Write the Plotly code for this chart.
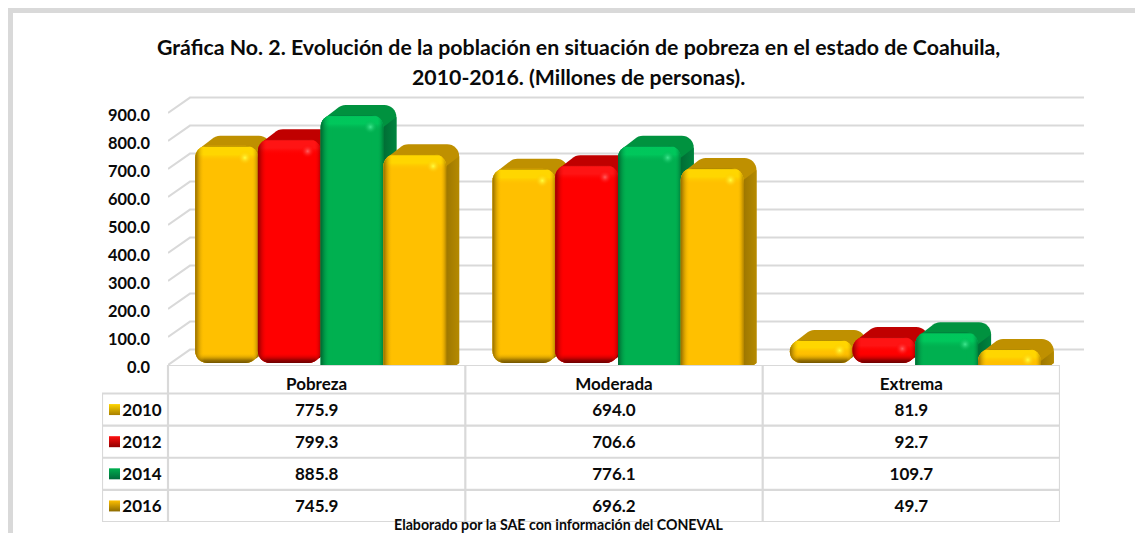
import plotly.graph_objects as go
import math

# ---- data ----
CATEGORIES = ["Pobreza", "Moderada", "Extrema"]
YEARS = ["2010", "2012", "2014", "2016"]
V2010 = [775.9, 694.0, 81.9]
V2012 = [799.3, 706.6, 92.7]
V2014 = [885.8, 776.1, 109.7]
V2016 = [745.9, 696.2, 49.7]
SERIES = [V2010, V2012, V2014, V2016]
Y_TICKS = [0, 100, 200, 300, 400, 500, 600, 700, 800, 900]
TITLE_1 = "Gráfica No. 2. Evolución de la población en situación de pobreza en el estado de Coahuila,"
TITLE_2 = "2010-2016. (Millones de personas)."
FOOTER = "Elaborado por la SAE con información del CONEVAL"

# ---- style ----
W, H = 1135, 533
FONT = "Lato"
INK = "#0a0a0a"
GRID = "#d9d9d9"
STYLES = [
    dict(body="#ffc000", top="#bf9000", side0="#9a7400", side1="#b58a00", band="rgba(255,214,0,1)",
         dark="rgba(115,85,0,1)", edge="rgba(150,110,0,1)", spot="#ffff40", sw="#ffd500", swd="#a87f00"),
    dict(body="#ff0000", top="#c00000", side0="#900000", side1="#b00000", band="rgba(255,25,25,0.8)",
         dark="rgba(110,0,0,1)", edge="rgba(150,0,0,1)", spot="#ff6060", sw="#ff1010", swd="#900000"),
    dict(body="#00b050", top="#00923f", side0="#006a33", side1="#00843f", band="rgba(0,200,92,0.95)",
         dark="rgba(0,85,38,1)", edge="rgba(0,105,50,1)", spot="#40e890", sw="#00b050", swd="#00693a"),
    dict(body="#ffc000", top="#bf9000", side0="#9a7400", side1="#b58a00", band="rgba(255,214,0,1)",
         dark="rgba(115,85,0,1)", edge="rgba(150,110,0,1)", spot="#ffff40", sw="#ffc000", swd="#8c6a00"),
]


def clear(hexcol):
    r, g, b = int(hexcol[1:3], 16), int(hexcol[3:5], 16), int(hexcol[5:7], 16)
    return f"rgba({r},{g},{b},0)"


# ---- axis geometry (pixels) ----
PLOT_L, PLOT_R, PLOT_B, PLOT_T = 168, 1084, 365, 88
TAB_L, TAB_R, TAB_T, TAB_B = 102, 1060, 365, 522
SX = (1060 - 168) / 3        # px per category
SY = 0.28                    # px per y unit
XMIN, XMAX = -0.5, -0.5 + (PLOT_R - PLOT_L) / SX
YMAX = (PLOT_B - PLOT_T) / SY
BAR_W = 62.75
SHIFT = 4
DX, DY = 13, 10
LIFT = 2
R = 12


def round_rect(x0, x1, y0, y1, rb, rt):
    """Rounded rectangle polygon in px-up space."""
    pts = []
    def arc(cx, cy, r, a0, a1):
        if r <= 0:
            pts.append((cx, cy))
            return
        for k in range(9):
            a = math.radians(a0 + (a1 - a0) * k / 8)
            pts.append((cx + r * math.cos(a), cy + r * math.sin(a)))
    arc(x0 + rb, y0 + rb, rb, 180, 270)
    arc(x1 - rb, y0 + rb, rb, 270, 360)
    arc(x1 - rt, y1 - rt, rt, 0, 90)
    arc(x0 + rt, y1 - rt, rt, 90, 180)
    return pts


def hull(points):
    p = sorted(set(points))
    def cross(o, a, b):
        return (a[0]-o[0])*(b[1]-o[1]) - (a[1]-o[1])*(b[0]-o[0])
    lo, up = [], []
    for q in p:
        while len(lo) > 1 and cross(lo[-2], lo[-1], q) <= 0:
            lo.pop()
        lo.append(q)
    for q in reversed(p):
        while len(up) > 1 and cross(up[-2], up[-1], q) <= 0:
            up.pop()
        up.append(q)
    return lo[:-1] + up[:-1]


def clip(points, a, b, c):
    """Keep part of polygon with a*x + b*y <= c."""
    out = []
    n = len(points)
    for i in range(n):
        p, q = points[i], points[(i + 1) % n]
        fp, fq = a*p[0] + b*p[1] - c, a*q[0] + b*q[1] - c
        if fp <= 0:
            out.append(p)
        if fp * fq < 0:
            t = fp / (fp - fq)
            out.append((p[0] + t*(q[0]-p[0]), p[1] + t*(q[1]-p[1])))
    return out


def poly(points, z, color=None, grad=None):
    xs = [p[0] / SX for p in points] + [points[0][0] / SX]
    ys = [p[1] / SY for p in points] + [points[0][1] / SY]
    kw = dict(x=xs, y=ys, mode="none", fill="toself", hoverinfo="skip", showlegend=False, zorder=z)
    if grad:
        kw["fillgradient"] = dict(type=grad[0], colorscale=grad[1])
    else:
        kw["fillcolor"] = color
    return go.Scatter(**kw)


fig = go.Figure()

# back wall / side wall gridlines
for t in Y_TICKS:
    fig.add_trace(go.Scatter(
        x=[XMIN, XMIN + 22 / SX, XMAX], y=[t, t + 15.4 / SY, t + 15.4 / SY],
        mode="lines", line=dict(color=GRID, width=2), hoverinfo="skip", showlegend=False,
        cliponaxis=False, zorder=-1))

# bars
for s, (vals, st) in enumerate(zip(SERIES, STYLES)):
    z = 10 * (s + 1)
    rounded_bottom = s < 2
    spots_x, spots_y = [], []
    for c, v in enumerate(vals):
        cx = c * SX + SHIFT + (s - 1.5) * BAR_W
        x0, x1 = cx - BAR_W / 2, cx + BAR_W / 2
        y1 = LIFT + v * SY
        y0 = LIFT if rounded_bottom else -8
        h = y1 - y0
        rb = min(R, h / 2) if rounded_bottom else 0
        rt = min(R, h / 2)
        front = round_rect(x0, x1, y0, y1, rb, rt)
        back = [(p[0] + DX, p[1] + DY) for p in front]
        shell = hull(front + back)
        fig.add_trace(poly(shell, z, color=st["top"]))
        # side face: right of the front, below the diagonal from the front top-right corner
        side = clip(clip(shell, -1, 0, -(x1 - 2)), -DY, DX, DX * (y1 - rt) - DY * x1)
        if len(side) > 2:
            fig.add_trace(poly(side, z, grad=("horizontal", [[0, st["side0"]], [1, st["side1"]]])))
        fig.add_trace(poly(front, z + 1, color=st["body"]))
        # bevel overlays
        tb = min(16, h * 0.6)
        bb = min(10, h * 0.45)
        fig.add_trace(poly(clip(front, 0, -1, -(y1 - tb)), z + 3, grad=(
            "vertical", [[0, clear(st["body"])], [0.45, st["band"]], [0.9, st["band"]], [1, st["edge"]]])))
        if rounded_bottom:
            fig.add_trace(poly(clip(front, 0, 1, y0 + bb), z + 3, grad=(
                "vertical", [[0, st["dark"]], [0.3, st["dark"].replace(",1)", ",0.7)")], [1, clear(st["body"])]])))
        fig.add_trace(poly(clip(front, 1, 0, x0 + 9), z + 3, grad=(
            "horizontal", [[0, st["edge"]], [0.3, st["edge"].replace(",1)", ",0.55)")], [1, clear(st["body"])]])))
        fig.add_trace(poly(clip(front, -1, 0, -(x1 - 6)), z + 3, grad=(
            "horizontal", [[0, clear(st["body"])], [1, st["edge"].replace(",1)", ",0.7)")]])))
        spots_x.append((x1 - 13) / SX)
        spots_y.append((y1 - min(12, h * 0.45)) / SY)
    # the bar itself, read straight from the series values
    fig.add_trace(go.Bar(
        x=[c + (SHIFT + (s - 1.5) * BAR_W) / SX for c in range(len(vals))],
        y=vals, base=[LIFT / SY] * len(vals), width=[(BAR_W - 2 * R) / SX] * len(vals),
        name=YEARS[s], marker=dict(color=st["body"], line=dict(width=0)),
        showlegend=False, zorder=z + 2,
        hovertemplate="%{y:.1f}<extra>" + YEARS[s] + "</extra>"))
    fig.add_trace(go.Scatter(
        x=spots_x, y=spots_y, mode="markers", hoverinfo="skip", showlegend=False, zorder=z + 4,
        marker=dict(size=14, color=clear(st["body"]), line=dict(width=0),
                    gradient=dict(type="radial", color=st["spot"]))))

# ---- table on its own axes ----
ROW_PX = (TAB_B - 393.5) / 4
HEAD_TOP = -0.5 - 28.5 / ROW_PX
X2MIN = -0.5 - (168 - TAB_L) / SX


def tline(xs, ys):
    fig.add_trace(go.Scatter(
        x=xs, y=ys, xaxis="x2", yaxis="y2", mode="lines", line=dict(color=GRID, width=2.2),
        hoverinfo="skip", showlegend=False, cliponaxis=False))


tline([-0.5, 2.5], [HEAD_TOP, HEAD_TOP])
for r in range(5):
    tline([X2MIN, 2.5], [r - 0.5, r - 0.5])
tline([X2MIN, X2MIN], [-0.5, 3.5])
for c in range(4):
    tline([c - 0.5, c - 0.5], [HEAD_TOP, 3.5])

TEXT_FONT = dict(family=FONT, size=17, color=INK, weight=700)
fig.add_trace(go.Scatter(
    x=list(range(3)), y=[-0.74] * 3, xaxis="x2", yaxis="y2", mode="text", text=CATEGORIES,
    textfont=TEXT_FONT, textposition="middle center", hoverinfo="skip", showlegend=False, cliponaxis=False))
for r, vals in enumerate(SERIES):
    fig.add_trace(go.Scatter(
        x=list(range(3)), y=[r + 0.06] * 3, xaxis="x2", yaxis="y2", mode="text",
        text=[f"{v:.1f}" for v in vals], textfont=TEXT_FONT, textposition="middle center",
        hoverinfo="skip", showlegend=False, cliponaxis=False))
fig.add_trace(go.Scatter(
    x=[-0.5 - 26 / SX] * 4, y=[r + 0.06 for r in range(4)], xaxis="x2", yaxis="y2", mode="text", text=YEARS,
    textfont=TEXT_FONT, textposition="middle center", hoverinfo="skip", showlegend=False, cliponaxis=False))
fig.add_trace(go.Scatter(
    x=[-0.5 - 53.5 / SX] * 4, y=list(range(4)), xaxis="x2", yaxis="y2", mode="markers",
    marker=dict(symbol="square", size=11, color=[st["sw"] for st in STYLES], line=dict(width=0),
                gradient=dict(type="vertical", color=[st["swd"] for st in STYLES])),
    hoverinfo="skip", showlegend=False, cliponaxis=False))


def note(text, cx, cy, size):
    return dict(text=text, xref="paper", yref="paper", x=cx / W, y=1 - cy / H, xanchor="center", yanchor="middle",
                showarrow=False, font=dict(family=FONT, size=size, color=INK, weight=700))


# ---- layout ----
fig.update_layout(
    width=W, height=H, margin=dict(l=0, r=0, t=0, b=0, autoexpand=False), autosize=False,
    paper_bgcolor="white", plot_bgcolor="rgba(0,0,0,0)", barmode="overlay", showlegend=False,
    xaxis=dict(domain=[PLOT_L / W, PLOT_R / W], range=[XMIN, XMAX], showticklabels=False, ticks="",
               showgrid=False, zeroline=False, showline=False, fixedrange=True),
    yaxis=dict(domain=[1 - PLOT_B / H, 1 - PLOT_T / H], range=[0, YMAX], tickmode="array", tickvals=Y_TICKS,
               ticktext=[f"{t:.1f}" for t in Y_TICKS], ticks="", ticklabelstandoff=17, ticklabelshift=2,
               tickfont=dict(family=FONT, size=16.4, color=INK, weight=700),
               showgrid=False, zeroline=False, showline=False, fixedrange=True),
    xaxis2=dict(domain=[TAB_L / W, TAB_R / W], range=[X2MIN, 2.5], visible=False, fixedrange=True, anchor="y2"),
    yaxis2=dict(domain=[1 - TAB_B / H, 1 - TAB_T / H], range=[3.5, HEAD_TOP], visible=False, fixedrange=True, anchor="x2"),
    annotations=[note(TITLE_1, 578.5, 47, 21.3), note(TITLE_2, 578.5, 77, 21.3), note(FOOTER, 558.5, 524.8, 14.2)],
    shapes=[dict(type="rect", xref="paper", yref="paper", x0=10.5 / W, x1=1.02, y0=-0.05, y1=1 - 10.5 / H,
                 line=dict(color=GRID, width=5), layer="below")],
)

fig.write_html("out.html", config=dict(displayModeBar=False),
               post_script="document.body.style.margin='0';document.body.style.overflow='hidden';")
